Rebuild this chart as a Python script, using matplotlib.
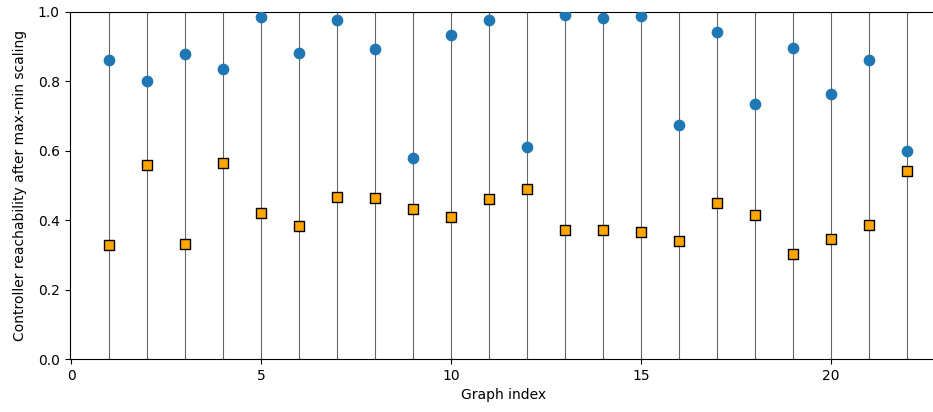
import matplotlib
matplotlib.use("Agg")
import matplotlib.pyplot as plt
import numpy as np

graph_index = list(range(1, 23))
blue_vals = [0.862, 0.801, 0.879, 0.836, 0.986, 0.882, 0.977, 0.893, 0.579, 0.934, 0.977,
             0.611, 0.991, 0.983, 0.988, 0.674, 0.942, 0.735, 0.896, 0.764, 0.862, 0.599]
orange_vals = [0.329, 0.559, 0.331, 0.565, 0.421, 0.383, 0.467, 0.464, 0.432, 0.409, 0.461,
               0.490, 0.372, 0.372, 0.366, 0.340, 0.450, 0.415, 0.303, 0.346, 0.386, 0.542]

fig = plt.figure(figsize=(9.33, 4.12), dpi=100)
ax = fig.add_axes([0.0745, 0.1286, 0.93, 0.8424])

x = np.array(graph_index)
ax.errorbar(x, np.full(len(x), 0.5), yerr=0.5, fmt='none', ecolor='black',
            elinewidth=0.8, capsize=3, capthick=0.8, alpha=0.6)
ax.scatter(x, blue_vals, s=55, color='#1f77b4', zorder=3)
ax.scatter(x, orange_vals, s=45, marker='s', color='orange', edgecolors='black',
           linewidths=1.0, zorder=3)

ax.set_xlim(-0.045, 22.8)
ax.set_ylim(0, 1)
ax.set_xlabel('Graph index')
ax.set_ylabel('Controller reachability after max-min scaling', labelpad=8)
fig.savefig('out.png', dpi=100)
